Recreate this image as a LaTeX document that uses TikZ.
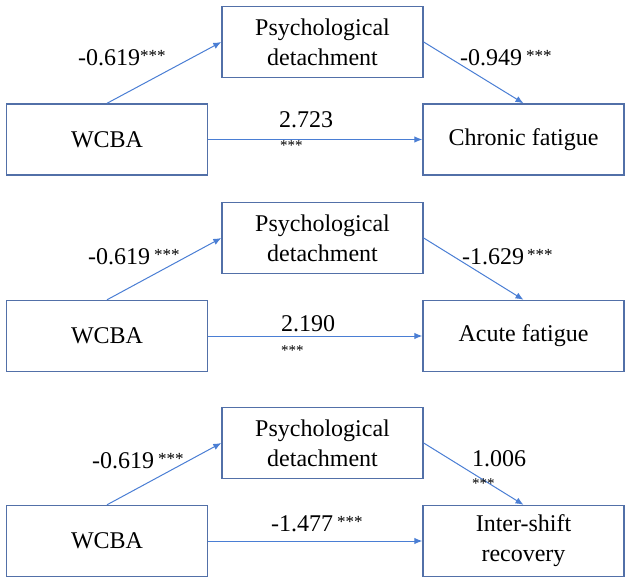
\documentclass[tikz,border=0pt]{standalone}
\usepackage{fontspec}
\setmainfont{Liberation Serif}
\usetikzlibrary{arrows.meta}
\definecolor{boxline}{HTML}{5270A8}
\definecolor{arrowline}{HTML}{4A7ED4}
% significance stars, set small and raised after a coefficient
\newcommand{\sigstars}[1]{\hspace{#1}\raisebox{4pt}{\fontsize{17}{17}\selectfont ***}}
\begin{document}
\begin{tikzpicture}[x=1pt,y=-1pt,
  var/.style={draw=boxline, line width=1.4pt, minimum width=201pt, minimum height=71pt,
    inner sep=0pt, align=center, font=\fontsize{24}{30}\selectfont},
  link/.style={draw=arrowline, line width=1pt, -{Latex[length=8pt,width=6.5pt]}},
  coef/.style={anchor=base west, inner sep=0pt, font=\fontsize{24}{30}\selectfont},
  starsbelow/.style={anchor=base west, inner sep=0pt, font=\fontsize{15}{15}\selectfont}]
\useasboundingbox (0,0) rectangle (630,583);

% ---- model 1: chronic fatigue ----
\node[var] (pd1) at (322.5,42) {Psychological\\detachment};
\node[var] (w1)  at (107,139.5) {WCBA};
\node[var] (y1)  at (523.5,139.5) {Chronic fatigue};
\draw[link] (w1.north) -- (pd1.west);
\draw[link] (pd1.east) -- (y1.north);
\draw[link] (w1.east) -- (y1.west);
\node[coef] (a1) at (78,66) {-0.619\sigstars{0pt}};
\node[coef] (b1) at (460,66) {-0.949\sigstars{4pt}};
\node[coef] (c1) at (279,128) {2.723};
\node[starsbelow] (c1s) at (280,151) {***};

% ---- model 2: acute fatigue ----
\node[var] (pd2) at (322.5,238) {Psychological\\detachment};
\node[var] (w2)  at (107,336) {WCBA};
\node[var] (y2)  at (523.5,336) {Acute fatigue};
\draw[link] (w2.north) -- (pd2.west);
\draw[link] (pd2.east) -- (y2.north);
\draw[link] (w2.east) -- (y2.west);
\node[coef] (a2) at (88,265) {-0.619\sigstars{4pt}};
\node[coef] (b2) at (462,265) {-1.629\sigstars{3pt}};
\node[coef] (c2) at (281,331) {2.190};
\node[starsbelow] (c2s) at (281,355) {***};

% ---- model 3: inter-shift recovery ----
\node[var] (pd3) at (322.5,443) {Psychological\\detachment};
\node[var] (w3)  at (107,541) {WCBA};
\node[var] (y3)  at (523.5,541) {Inter-shift\\recovery};
\draw[link] (w3.north) -- (pd3.west);
\draw[link] (pd3.east) -- (y3.north);
\draw[link] (w3.east) -- (y3.west);
\node[coef] (a3) at (92,468) {-0.619\sigstars{4pt}};
\node[coef] (b3) at (472,466) {1.006};
\node[starsbelow] (b3s) at (472,488) {***};
\node[coef] (c3) at (271,531) {-1.477\sigstars{4pt}};
\end{tikzpicture}
\end{document}
